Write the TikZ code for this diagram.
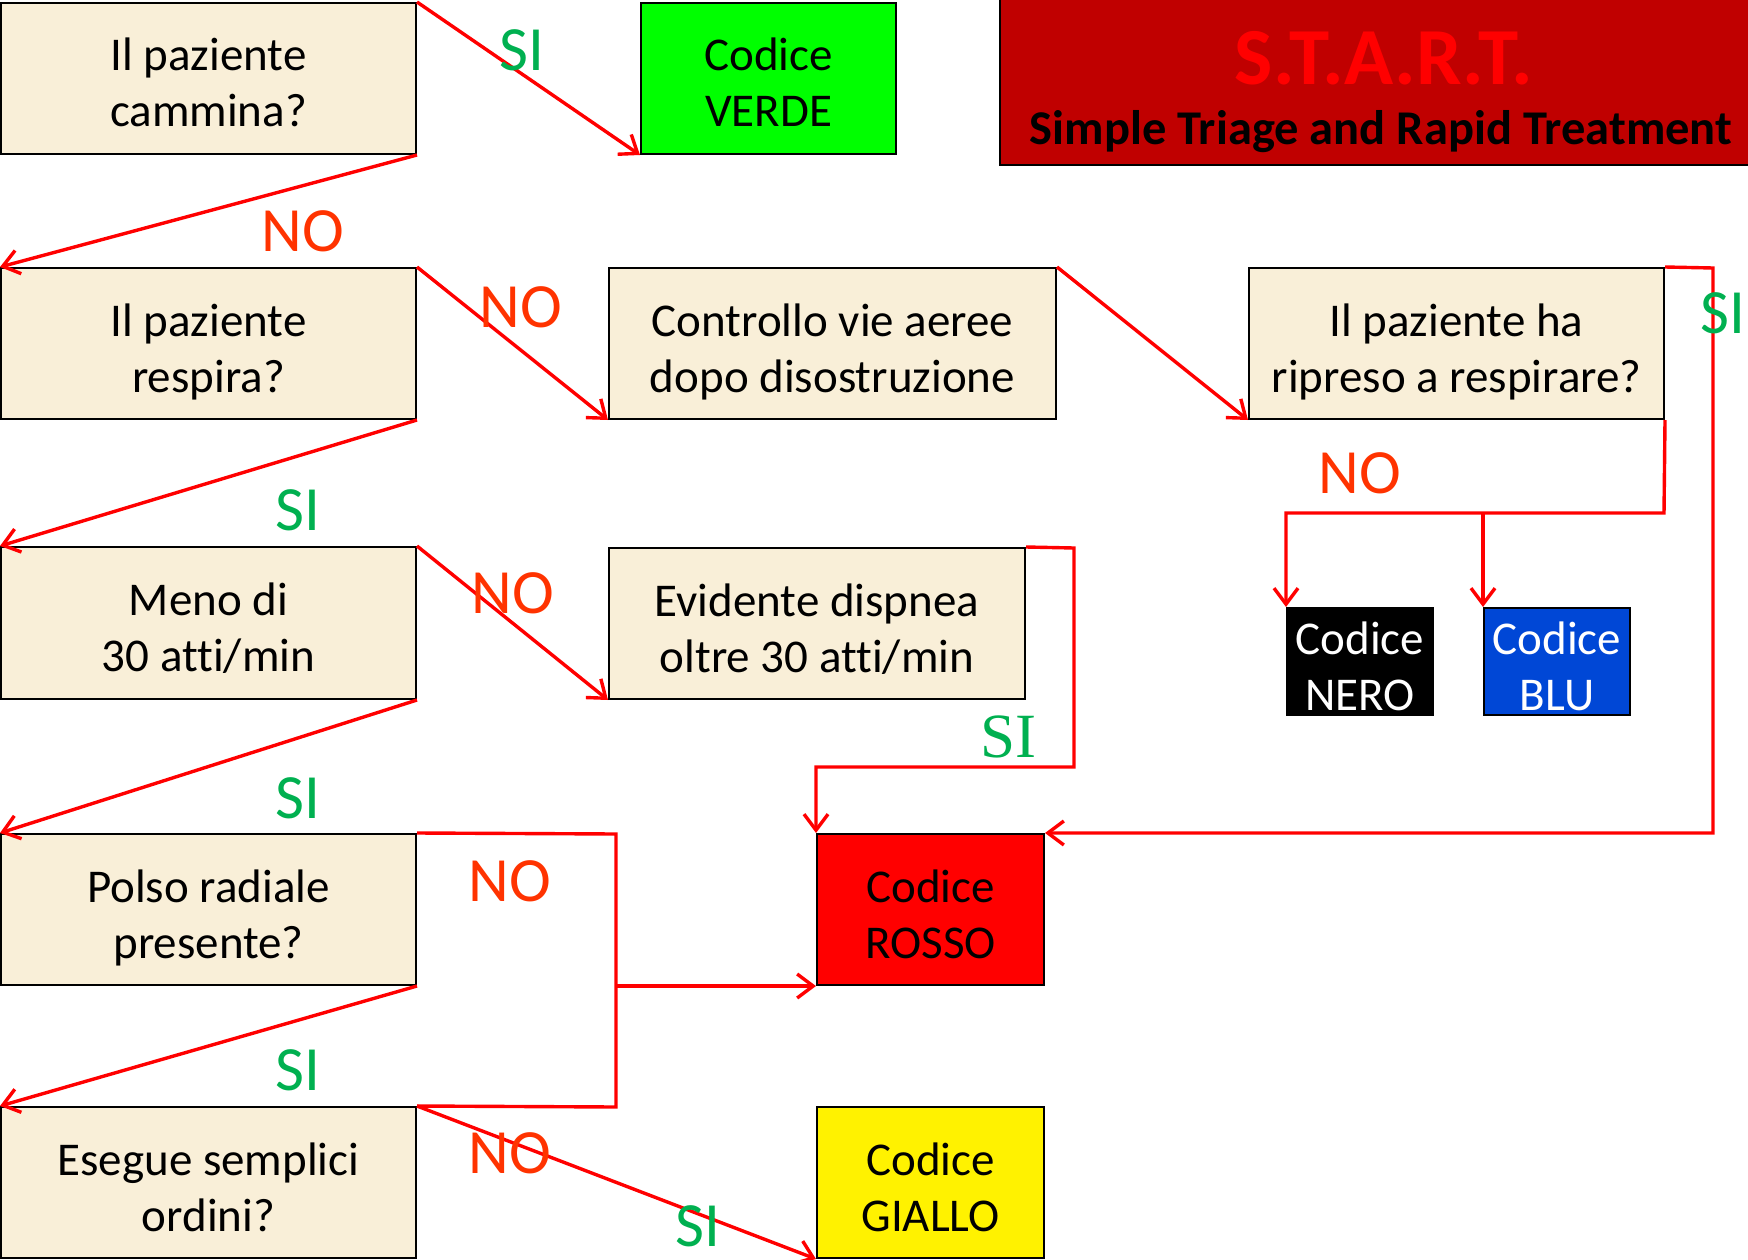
\documentclass[tikz,border=0pt]{standalone}
\usepackage{fontspec}
\setmainfont{Carlito}[Ligatures=NoCommon]
\newfontfamily\serifsi{Liberation Serif}
\usetikzlibrary{arrows.meta}
\definecolor{parch}{HTML}{F9EFD8}
\definecolor{sigreen}{HTML}{00B050}
\definecolor{nored}{HTML}{FF3300}
\definecolor{arrred}{HTML}{FF0000}
\definecolor{startbg}{HTML}{C00000}
\definecolor{blucol}{HTML}{0047D6}
\begin{document}
\begin{tikzpicture}[x=1pt,y=-1pt,
  qbox/.style={draw=black, line width=2pt, fill=parch, inner sep=0pt, align=center,
    font=\fontsize{47}{56}\selectfont, text height=97pt, text depth=0pt},
  cbox/.style={draw=black, line width=2pt, inner sep=0pt, align=center,
    font=\fontsize{47}{56}\selectfont, text height=97pt, text depth=0pt},
  link/.style={draw=arrred, line width=3.4pt},
  arr/.style={link, -{Straight Barb[length=16pt,width=24pt,line width=3.4pt]}},
  silab/.style={text=sigreen, inner sep=0pt, font=\fontsize{63}{63}\selectfont},
  nolab/.style={text=nored, inner sep=0pt, font=\fontsize{63}{63}\selectfont}]
\useasboundingbox (0,0) rectangle (1748,1260);

% title
\node[draw=black, line width=2pt, fill=startbg, minimum width=760, minimum height=172, inner sep=0pt] (title) at (1380,79) {};
\node[text=arrred, font=\bfseries\fontsize{81}{81}\selectfont, inner sep=0pt] (tt1) at (1384,58) {S.T.A.R.T.};
\node[text=black, font=\bfseries\fontsize{48.5}{48.5}\selectfont, inner sep=0pt, anchor=base] (tt2) at (1381,145) {Simple Triage and Rapid Treatment};

% question boxes (left column)
\node[qbox, minimum width=415, minimum height=151] (b1) at (208.5,78.5) {Il paziente\\cammina?};
\node[qbox, minimum width=415, minimum height=151] (b2) at (208.5,343.5) {Il paziente\\respira?};
\node[qbox, minimum width=415, minimum height=152] (b3) at (208.5,623) {Meno di\\30 atti/min};
\node[qbox, minimum width=415, minimum height=151] (b4) at (208.5,909.5) {Polso radiale\\presente?};
\node[qbox, minimum width=415, minimum height=151] (b5) at (208.5,1182.5) {Esegue semplici\\ordini?};

% other question boxes
\node[qbox, minimum width=447, minimum height=151] (ctrl) at (832.5,343.5) {Controllo vie aeree\\dopo disostruzione};
\node[qbox, minimum width=415, minimum height=151] (rip) at (1456.5,343.5) {Il paziente ha\\ripreso a respirare?};
\node[qbox, minimum width=416, minimum height=151] (evid) at (817,623.5) {Evidente dispnea\\oltre 30 atti/min};

% code boxes
\node[cbox, fill=green, minimum width=255, minimum height=151] (verde) at (768.5,78.5) {Codice\\VERDE};
\node[cbox, fill=arrred, minimum width=227, minimum height=151] (rosso) at (930.5,909.5) {Codice\\ROSSO};
\node[cbox, fill=yellow, minimum width=227, minimum height=151] (giallo) at (930.5,1182.5) {Codice\\GIALLO};
\node[cbox, fill=black, text=white, minimum width=146, minimum height=107] (nero) at (1360,661.5) {Codice\\NERO};
\node[cbox, fill=blucol, text=white, minimum width=146, minimum height=107] (blu) at (1557,661.5) {Codice\\BLU};

% diagonal connectors
\draw[arr] (b1.north east) -- (verde.south west);
\draw[arr] (b1.south east) -- (b2.north west);
\draw[arr] (b2.north east) -- (ctrl.south west);
\draw[arr] (ctrl.north east) -- (rip.south west);
\draw[arr] (b2.south east) -- (b3.north west);
\draw[arr] (b3.north east) -- (evid.south west);
\draw[arr] (b3.south east) -- (b4.north west);
\draw[arr] (b4.south east) -- (b5.north west);
\draw[arr] (b5.north east) -- (giallo.south west);

% ripreso SI -> rosso
\coordinate (rs1) at (1713,268);
\draw[arr] (rip.north east) -- (rs1) |- (rosso.north east);

% ripreso NO -> nero / blu
\coordinate (rn1) at (1664,513);
\draw[arr] (rip.south east) -- (rn1) -| (nero.north west);
\draw[arr] (blu.north west |- rn1) -- (blu.north west);

% evidente SI -> rosso
\coordinate (es1) at (1074,548);
\coordinate (es2) at (1074,767);
\draw[arr] (evid.north east) -- (es1) -- (es2) -| (rosso.north west);

% polso NO -> rosso
\coordinate (pn1) at (616,834);
\coordinate (pn2) at (616,1107);
\draw[link] (b4.north east) -- (pn1) -- (pn2) -- (b5.north east);
\draw[arr] (pn1 |- rosso.south west) -- (rosso.south west);

% labels
\node[silab] (l1) at (522,50) {SI};
\node[nolab] (l2) at (303,231) {NO};
\node[nolab] (l3) at (521,307) {NO};
\node[silab] (l4) at (298,510) {SI};
\node[nolab] (l5) at (513,593) {NO};
\node[silab] (l6) at (298,798) {SI};
\node[nolab] (l7) at (510,881) {NO};
\node[silab] (l8) at (298,1070) {SI};
\node[nolab] (l9) at (510,1153) {NO};
\node[silab] (l10) at (698,1226) {SI};
\node[text=sigreen, inner sep=0pt, font=\serifsi\fontsize{63}{63}\selectfont] (l11) at (1008,737) {SI};
\node[nolab] (l12) at (1360,473) {NO};
\node[silab] (l13) at (1723,313) {SI};
\end{tikzpicture}
\end{document}
